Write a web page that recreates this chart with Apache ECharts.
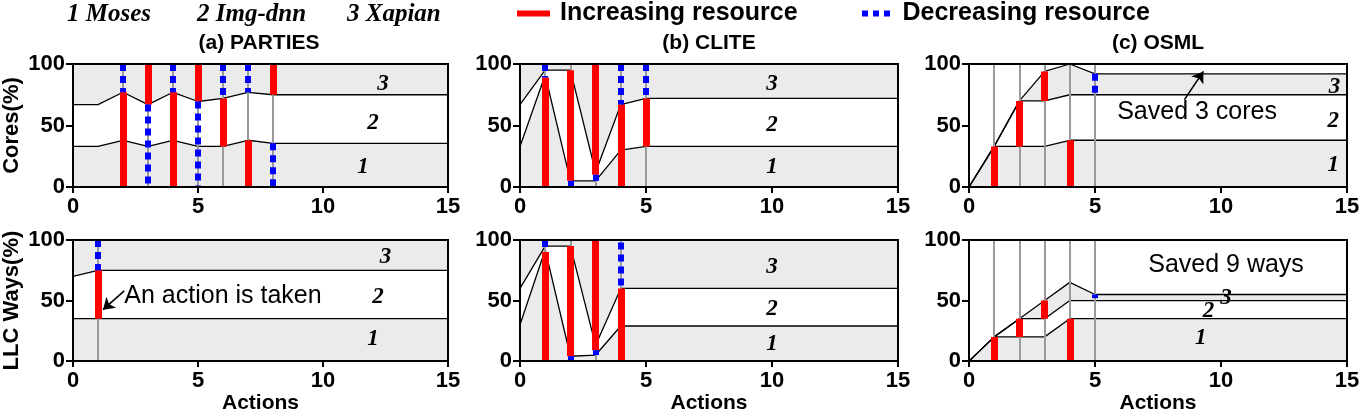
<!DOCTYPE html>
<html>
<head>
<meta charset="utf-8">
<script src="https://cdn.jsdelivr.net/npm/echarts@6/dist/echarts.min.js"></script>
<style>
  html, body { margin: 0; padding: 0; background: #fff; }
  #chart { width: 1368px; height: 415px; }
</style>
</head>
<body>
<div id="chart"></div>
<script>
// ---- data: boundaries between app 1 / app 2 / app 3 (percent), per action ----
const partiesCoreX = [0, 1, 2, 3, 4, 5, 6, 7, 8, 15]
const partiesCoreB1 = [33, 33, 38, 33, 38, 33, 33, 38, 35.5, 35.5]
const partiesCoreB2 = [67, 67, 77, 67, 77, 69.5, 72, 77, 75, 75]
const partiesCoreB3 = [100, 100, 100, 100, 100, 100, 100, 100, 100, 100]
const partiesLlcX = [0, 1, 15]
const partiesLlcB1 = [35, 35, 35]
const partiesLlcB2 = [70, 75, 75]
const partiesLlcB3 = [100, 100, 100]

const cliteCoreX = [0, 1, 2, 3, 4, 5, 15]
const cliteCoreB1 = [33, 91, 5, 5, 30, 33, 33]
const cliteCoreB2 = [67, 95, 95, 12, 67, 72, 72]
const cliteCoreB3 = [100, 100, 100, 100, 100, 100, 100]
const cliteLlcX = [0, 1, 2, 3, 4, 15]
const cliteLlcB1 = [30, 92, 4, 5, 29, 29]
const cliteLlcB2 = [60, 95, 95, 13, 60, 60]
const cliteLlcB3 = [100, 100, 100, 100, 100, 100]

const osmlCoreX = [0, 1, 2, 3, 4, 5, 15]
const osmlCoreB1 = [0, 33, 33, 33, 38, 38, 38]
const osmlCoreB2 = [0, 33, 70, 70, 75, 75, 75]
const osmlCoreB3 = [0, 33, 70, 94, 100, 92, 92]
const osmlLlcX = [0, 1, 2, 3, 4, 5, 15]
const osmlLlcB1 = [0, 20, 20, 20, 35, 35, 35]
const osmlLlcB2 = [0, 20, 35, 35, 50, 50, 50]
const osmlLlcB3 = [0, 20, 35, 50, 65, 55, 55]

// actions: [action, from, to]
const partiesCoreActions = [2, 3, 4, 5, 6, 7, 8]
const partiesCoreUp = [[2, 0, 77], [3, 67, 100], [4, 0, 77], [5, 69.5, 100], [6, 33, 72], [7, 0, 38], [8, 75, 100]]
const partiesCoreDown = [[2, 77, 100], [3, 0, 67], [4, 77, 100], [5, 0, 69.5], [6, 72, 100], [7, 77, 100], [8, 0, 35.5]]
const partiesLlcActions = [1]
const partiesLlcUp = [[1, 35, 75]]
const partiesLlcDown = [[1, 75, 100]]

const cliteCoreActions = [1, 2, 3, 4, 5]
const cliteCoreUp = [[1, 0, 89], [2, 5, 95], [3, 10, 100], [4, 0, 67], [5, 33, 72]]
const cliteCoreDown = [[1, 89, 100], [2, 0, 5], [3, 5, 10], [4, 67, 100], [5, 72, 100]]
const cliteLlcActions = [1, 2, 3, 4]
const cliteLlcUp = [[1, 0, 90], [2, 4, 95], [3, 9, 100], [4, 0, 60]]
const cliteLlcDown = [[1, 90, 100], [2, 0, 4], [3, 5, 9], [4, 60, 98]]

const osmlCoreActions = [1, 2, 3, 4, 5]
const osmlCoreUp = [[1, 0, 33], [2, 33, 70], [3, 70, 94], [4, 0, 38]]
const osmlCoreDown = [[5, 75, 92]]
const osmlLlcActions = [1, 2, 3, 4, 5]
const osmlLlcUp = [[1, 0, 20], [2, 20, 35], [3, 35, 50], [4, 0, 35]]
const osmlLlcDown = [[5, 52, 55]]

const titles = ['(a) PARTIES', '(b) CLITE', '(c) OSML']
const apps = ['1 Moses', '2 Img-dnn', '3 Xapian']
const xTickInterval = 5
const yTickInterval = 50

const chart = echarts.init(document.getElementById('chart'))
const SANS = '"Liberation Sans", Arial, sans-serif'
const SERIF = '"Liberation Serif", "Times New Roman", serif'
const GREY = '#ebebeb'

const grids = []
const xAxes = []
const yAxes = []
const series = []

const lefts = [70, 520, 969]
const tops = [64, 240]

// text placed at data coordinates (region numbers, notes)
const textSeries = (gi, items, font, z) => ({
  type: 'custom', xAxisIndex: gi, yAxisIndex: gi, z: z, silent: true,
  data: items.map(t => [t[0], t[1]]),
  renderItem: (params, api) => {
    const p = api.coord([api.value(0), api.value(1)])
    return {
      type: 'text', x: p[0], y: p[1],
      style: { text: items[params.dataIndex][2], font: font, fill: '#000', align: 'center', verticalAlign: 'middle' }
    }
  }
})

const makePanel = (row, col, xs, b1, b2, b3, actions, up, down, labels) => {
  const gi = grids.length
  grids.push({ left: lefts[col], top: tops[row], width: 378, height: 123, show: true, borderColor: '#000', borderWidth: 2, z: 10 })
  xAxes.push({
    gridIndex: gi, type: 'value', min: 0, max: 15, interval: xTickInterval, z: 10,
    axisLine: { lineStyle: { color: '#000', width: 2 } },
    axisTick: { length: 6, lineStyle: { color: '#000', width: 2 } },
    axisLabel: { color: '#000', fontSize: 22, fontWeight: 'bold', fontFamily: SANS, margin: 9 },
    splitLine: { show: false },
    name: row === 1 ? 'Actions' : '', nameLocation: 'middle', nameGap: 31,
    nameTextStyle: { color: '#000', fontSize: 21, fontWeight: 'bold', fontFamily: SANS }
  })
  yAxes.push({
    gridIndex: gi, type: 'value', min: 0, max: 100, interval: yTickInterval, z: 10,
    axisLine: { show: true, lineStyle: { color: '#000', width: 2 } },
    axisTick: { show: true, length: 7, lineStyle: { color: '#000', width: 2 } },
    axisLabel: { color: '#000', fontSize: 22, fontWeight: 'bold', fontFamily: SANS, margin: 8 },
    splitLine: { show: false },
    name: col === 0 ? (row === 0 ? 'Cores(%)' : 'LLC Ways(%)') : '', nameLocation: 'middle', nameGap: 50,
    nameTextStyle: { color: '#000', fontSize: 22, fontWeight: 'bold', fontFamily: SANS }
  })
  const area = (vals, fill) => ({
    type: 'line', xAxisIndex: gi, yAxisIndex: gi, symbol: 'none', z: 1,
    data: xs.map((x, i) => [x, vals[i]]),
    lineStyle: { color: '#000', width: 1.3 },
    areaStyle: { color: fill, opacity: 1 },
    silent: true
  })
  series.push(area(b3, GREY), area(b2, '#fff'), area(b1, GREY))
  series.push({
    type: 'lines', coordinateSystem: 'cartesian2d', xAxisIndex: gi, yAxisIndex: gi, z: 3,
    data: actions.map(x => ({ coords: [[x, 0], [x, 100]] })),
    lineStyle: { color: '#9a9a9a', width: 2, opacity: 1 }
  })
  series.push({
    name: 'Increasing resource', type: 'lines', coordinateSystem: 'cartesian2d', xAxisIndex: gi, yAxisIndex: gi, z: 4,
    data: up.map(s => ({ coords: [[s[0], s[1]], [s[0], s[2]]] })),
    lineStyle: { color: '#ff0000', width: 7, opacity: 1, cap: 'butt' }
  })
  series.push({
    name: 'Decreasing resource', type: 'lines', coordinateSystem: 'cartesian2d', xAxisIndex: gi, yAxisIndex: gi, z: 5,
    data: down.map(s => ({ coords: [[s[0], s[2]], [s[0], s[1]]] })),
    lineStyle: { color: '#0000ff', width: 6, opacity: 1, type: [7, 5], cap: 'butt' }
  })
  series.push(textSeries(gi, labels, 'italic bold 23px ' + SERIF, 6))
  return gi
}

makePanel(0, 0, partiesCoreX, partiesCoreB1, partiesCoreB2, partiesCoreB3, partiesCoreActions, partiesCoreUp, partiesCoreDown,
  [[12.4, 84, '3'], [12.0, 52, '2'], [11.6, 16, '1']])
makePanel(0, 1, cliteCoreX, cliteCoreB1, cliteCoreB2, cliteCoreB3, cliteCoreActions, cliteCoreUp, cliteCoreDown,
  [[10, 84, '3'], [10, 50, '2'], [10, 16, '1']])
const gOsmlCore = makePanel(0, 2, osmlCoreX, osmlCoreB1, osmlCoreB2, osmlCoreB3, osmlCoreActions, osmlCoreUp, osmlCoreDown,
  [[14.5, 81, '3'], [14.45, 54, '2'], [14.45, 18, '1']])
const gPartiesLlc = makePanel(1, 0, partiesLlcX, partiesLlcB1, partiesLlcB2, partiesLlcB3, partiesLlcActions, partiesLlcUp, partiesLlcDown,
  [[12.5, 86, '3'], [12.2, 53, '2'], [12.0, 18, '1']])
makePanel(1, 1, cliteLlcX, cliteLlcB1, cliteLlcB2, cliteLlcB3, cliteLlcActions, cliteLlcUp, cliteLlcDown,
  [[10, 78, '3'], [10, 43, '2'], [10, 14, '1']])
const gOsmlLlc = makePanel(1, 2, osmlLlcX, osmlLlcB1, osmlLlcB2, osmlLlcB3, osmlLlcActions, osmlLlcUp, osmlLlcDown,
  [[10.2, 52, '3'], [9.5, 41, '2'], [9.2, 19, '1']])

// annotations
const NOTE_FONT = '25px ' + SANS
const arrow = (gi, from, to) => ({
  type: 'lines', coordinateSystem: 'cartesian2d', xAxisIndex: gi, yAxisIndex: gi, z: 7, silent: true,
  symbol: ['none', 'arrow'], symbolSize: 11,
  data: [{ coords: [from, to] }],
  lineStyle: { color: '#000', width: 1.6, opacity: 1 }
})
series.push(textSeries(gPartiesLlc, [[6.0, 54, 'An action is taken']], NOTE_FONT, 7))
series.push(arrow(gPartiesLlc, [2.05, 58], [1.2, 42.5]))
series.push(textSeries(gOsmlCore, [[9.05, 61, 'Saved 3 cores']], NOTE_FONT, 7))
series.push(arrow(gOsmlCore, [8.55, 71], [9.3, 94]))
series.push(textSeries(gOsmlLlc, [[10.2, 79, 'Saved 9 ways']], NOTE_FONT, 7))

const graphic = []
titles.forEach((t, i) => {
  graphic.push({
    type: 'text', x: lefts[i] + 189, y: 43,
    style: { text: t, font: 'bold 21px ' + SANS, fill: '#000', align: 'center', verticalAlign: 'middle', textAlign: 'center', textVerticalAlign: 'middle' }
  })
})
const appX = [67, 197, 347]
apps.forEach((a, i) => {
  graphic.push({
    type: 'text', x: appX[i], y: 15,
    style: { text: a, font: 'italic bold 25px ' + SERIF, fill: '#000', align: 'left', verticalAlign: 'middle', textAlign: 'left', textVerticalAlign: 'middle' }
  })
})

const legendBase = {
  top: 1, padding: 0, itemWidth: 33, itemHeight: 6, itemGap: 10, selectedMode: false,
  itemStyle: { borderWidth: 0 },
  textStyle: { color: '#000', fontSize: 25, fontWeight: 'bold', fontFamily: SANS, padding: [0, 0, 0, 5] }
}

const option = {
  animation: false,
  backgroundColor: '#fff',
  grid: grids,
  xAxis: xAxes,
  yAxis: yAxes,
  legend: [
    Object.assign({}, legendBase, {
      left: 517,
      data: [{ name: 'Increasing resource', icon: 'rect', itemStyle: { color: '#ff0000', borderWidth: 0 } }]
    }),
    Object.assign({}, legendBase, {
      left: 862,
      data: [{ name: 'Decreasing resource', icon: 'path://M0,0h6v6h-6zM11,0h6v6h-6zM22,0h6v6h-6z', itemStyle: { color: '#0000ff', borderWidth: 0 } }]
    })
  ],
  graphic: graphic,
  series: series
}

chart.setOption(option)
</script>
</body>
</html>
